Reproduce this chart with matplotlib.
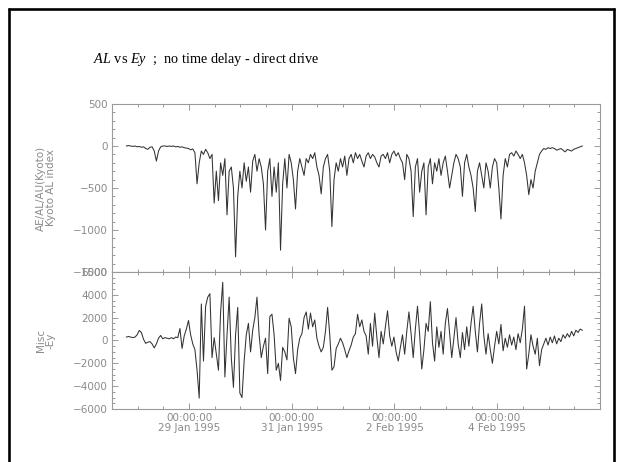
import numpy as np
import pandas as pd
import matplotlib
matplotlib.use("Agg")
import matplotlib.pyplot as plt
from matplotlib.lines import Line2D
from matplotlib.ticker import MultipleLocator

# hourly samples starting 27 Jan 1995 18:45
t_start = "1995-01-27 18:45"

al = [0, 5, 0, -5, 0, -10, -5, -15, -10, -30,
      -40, -15, -10, -60, -180, -60, -10, 0, 0, -5,
      0, -5, 0, -10, -5, -15, -10, -20, -25, -30,
      -45, -35, -80, -450, -200, -60, -100, -40, -80, -150,
      -100, -680, -300, -650, -200, -350, -150, -820, -300, -250,
      -500, -1320, -600, -300, -500, -200, -420, -250, -550, -180,
      -100, -300, -150, -250, -450, -1000, -300, -150, -600, -250,
      -550, -200, -1240, -450, -150, -500, -100, -200, -400, -750,
      -300, -150, -250, -350, -150, -200, -100, -150, -80, -250,
      -350, -570, -250, -150, -100, -300, -960, -400, -200, -300,
      -150, -250, -120, -350, -150, -100, -200, -80, -150, -100,
      -180, -250, -120, -80, -150, -100, -130, -200, -250, -120,
      -100, -150, -80, -200, -100, -60, -120, -80, -150, -200,
      -400, -100, -150, -300, -840, -250, -150, -550, -300, -200,
      -820, -250, -150, -450, -200, -300, -150, -350, -200, -120,
      -300, -500, -350, -200, -100, -150, -250, -600, -200, -100,
      -250, -350, -500, -780, -300, -200, -350, -500, -200, -300,
      -500, -250, -150, -200, -500, -870, -350, -150, -250, -100,
      -80, -120, -60, -100, -150, -100, -200, -350, -580, -400,
      -500, -300, -200, -100, -60, -30, -40, -20, -30, -20,
      -30, -50, -40, -30, -50, -70, -40, -50, -60, -40,
      -30, -20, -10, 0]

ey = [300, 350, 300, 250, 300, 500, 880, 700, 100, -250,
      -150, -100, -300, -650, -300, 200, 440, 150, 250, 200,
      150, 250, 150, 300, 250, 1050, -700, 400, 1000, 1750,
      500, -300, -800, -2600, -5050, 3200, -1800, 3000, 3800, 4100,
      -1500, 250, -1200, -2600, 2500, 5100, -3200, 500, 3800, -1500,
      -4100, 500, 2900, -4600, -5000, -1800, 500, 1500, -1000, 900,
      2000, 3800, 500, -1500, -500, 200, -2900, 2100, 2300, 500,
      -2600, -2000, -3500, -600, -1000, -1700, 1950, 1200, -1500, -2900,
      -800, 200, 600, 2000, 2500, 1000, 2400, 1200, 1800, 200,
      -500, -1000, -600, 800, 2900, 500, -2600, -2300, -700, -300,
      200, -200, -800, -1500, -900, -400, 300, 600, 2300, 1200,
      1800, 800, 400, -1200, 1500, -500, 2400, 300, -1500, 800,
      -300, 1200, 2600, 400, -500, 300, -1000, -1800, -600, 500,
      -1200, 800, 2500, 600, -1500, 1000, 3000, 500, -2500, -800,
      1500, 800, 3400, -200, -1800, 1200, -600, 800, -1200, 1500,
      2800, 600, -1500, 200, 2000, -300, -1500, 700, -800, 1200,
      -500, 1500, 3000, 800, -1000, 1500, 3200, 400, -1200, 600,
      -800, -2000, -500, 800, -300, 1400, -900, 200, -600, 500,
      -400, 300, -800, 600, -200, 1000, 3000, -2500, -1200, 500,
      -500, -1200, 200, -2200, -800, -300, 200, -400, 300, -200,
      400, -300, 200, -100, 500, 200, 600, 300, 800, 400,
      900, 700, 1000, 900]

major_days = pd.date_range("1995-01-29", periods=4, freq="2D")
minor_days = pd.date_range("1995-01-27 12:00", "1995-02-06", freq="12h")
tick_labels = [f"{d:%H:%M:%S}\n{d.day} {d:%b %Y}" for d in major_days]

t = pd.date_range(t_start, periods=len(al), freq="h")
x0 = pd.Timestamp(t_start)
x1 = t[-1]

gray = "#9a9a9a"
txt = "#8a8a8a"
plt.rcParams["font.family"] = "DejaVu Sans"

fig = plt.figure(figsize=(6.18, 4.62), dpi=100)
ax1 = fig.add_axes([0.1812, 0.4113, 0.7896, 0.3636])
ax2 = fig.add_axes([0.1812, 0.1147, 0.7896, 0.2966])

ax1.plot(t, al, color="#333333", lw=0.75)
ax2.plot(t, ey, color="#333333", lw=0.75)

ax1.set_ylim(-1500, 500)
ax1.yaxis.set_major_locator(MultipleLocator(500))
ax1.yaxis.set_minor_locator(MultipleLocator(100))
ax2.set_ylim(-6000, 6000)
ax2.yaxis.set_major_locator(MultipleLocator(2000))
ax2.yaxis.set_minor_locator(MultipleLocator(500))

for ax in (ax1, ax2):
    ax.set_xlim(x0, x1)
    ax.set_xticks(major_days)
    ax.set_xticks(minor_days, minor=True)
    for s in ax.spines.values():
        s.set_color(gray)
        s.set_linewidth(0.8)
    ax.tick_params(which="both", direction="in", top=True, right=True,
                   color=gray, labelcolor=txt, labelsize=7.5, pad=3)
    ax.tick_params(which="major", length=4.5, width=0.7)
    ax.tick_params(which="minor", length=2.2, width=0.7)

ax1.set_xticklabels([])
ax2.set_xticklabels(tick_labels, linespacing=0.95)

ax1.set_ylabel("AE/AL/AU(Kyoto)\nKyoto AL index", color=txt, fontsize=7.5,
               linespacing=0.95)
ax2.set_ylabel("Misc\n-Ey", color=txt, fontsize=7.5, linespacing=0.95)
ax1.yaxis.set_label_coords(-0.115, 0.5)
ax2.yaxis.set_label_coords(-0.115, 0.5)

plt.rcParams["mathtext.fontset"] = "custom"
plt.rcParams["mathtext.rm"] = "Liberation Serif"
plt.rcParams["mathtext.it"] = "Liberation Serif:italic"
fig.text(93 / 618, 1 - 63 / 462,
         r"$\mathit{AL}$ vs $\mathit{Ey}$  ;  no time delay - direct drive",
         family="Liberation Serif", fontsize=10.3, color="black",
         va="baseline", ha="left")

# slide frame
W, H = 618, 462
frame = dict(color="black", lw=1.9, solid_capstyle="butt")
fig.add_artist(Line2D([8.5 / W, 8.5 / W], [0, 1 - 7.5 / H], **frame))
fig.add_artist(Line2D([7.5 / W, 614.5 / W], [1 - 8.5 / H, 1 - 8.5 / H], **frame))
fig.add_artist(Line2D([613.5 / W, 613.5 / W], [0, 1 - 7.5 / H], **frame))

fig.savefig("out.png", dpi=100)
